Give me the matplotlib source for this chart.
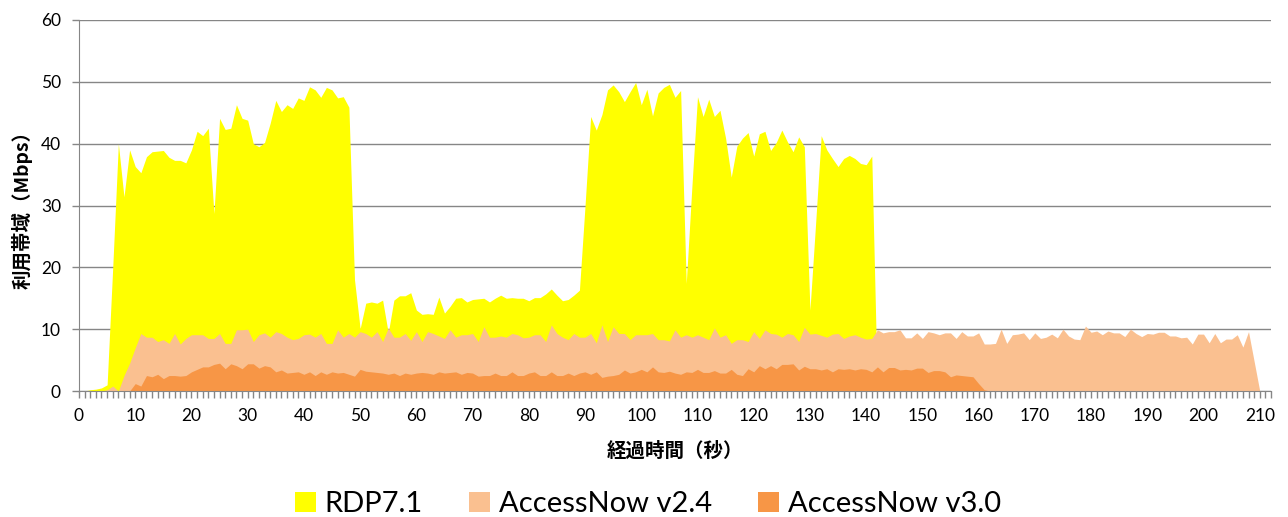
import numpy as np
import matplotlib
matplotlib.use("Agg")
import matplotlib.pyplot as plt
from matplotlib.patches import Patch

plt.rcParams['font.family'] = ['Lato', 'Noto Sans CJK JP', 'DejaVu Sans']

# 利用帯域 (Mbps), 1 sample per second
rdp71 = [0, 0, 0.2, 0.3, 0.5, 1.0, 20, 40, 31.4, 39,
         36.3, 35.3, 37.9, 38.7, 38.8, 38.9, 37.8, 37.3, 37.3, 36.9,
         39, 42, 41.3, 42.5, 28.7, 44.1, 42.3, 42.5, 46.3, 44.1,
         43.8, 40, 39.5, 40.2, 43.3, 47, 45.2, 46.3, 45.7, 47.4,
         47, 49.2, 48.7, 47.5, 49.1, 48.7, 47.4, 47.6, 45.9, 18,
         10.1, 14.2, 14.4, 14.2, 14.7, 9.4, 14.7, 15.4, 15.4, 15.9,
         13.1, 12.4, 12.5, 12.4, 15.2, 12.6, 13.7, 15, 15.1, 14.4,
         14.8, 14.9, 15, 14.4, 15, 15.5, 15, 15.1, 15, 15,
         14.6, 15.1, 15.1, 15.7, 16.5, 15.5, 14.6, 14.8, 15.5, 16.3,
         30, 44.4, 42.2, 44.7, 48.7, 49.5, 48.4, 46.8, 48.4, 49.9,
         46.3, 48.8, 44.5, 48.2, 49.1, 49.6, 47.5, 48.6, 17.4, 33,
         47.6, 44.4, 47.2, 44.4, 45.4, 40.9, 34.6, 39.6, 40.9, 41.8,
         38, 41.6, 42, 38.9, 40.2, 42.2, 40.3, 38.7, 41.1, 39.5,
         13.1, 27, 41.3, 39, 37.6, 36.3, 37.6, 38.1, 37.6, 36.8,
         36.6, 38, 0]

accessnow24 = [0, 0, 0, 0, 0, 0.2, 0.8, 0, 2.5, 4.5,
               7, 9.3, 8.7, 8.7, 8.0, 8.3, 7.7, 9.3, 7.6, 8.5,
               9.1, 9.1, 9.1, 8.5, 8.5, 9.3, 7.7, 7.7, 9.9, 9.9,
               10, 8, 9.1, 9.4, 8.7, 9.6, 9.3, 8.7, 8.3, 8.5,
               9.1, 9.2, 8.7, 9.3, 7.7, 7.7, 9.9, 8.7, 9.3, 8.7,
               9.6, 9.3, 8.7, 9.6, 8.0, 10.2, 8.7, 8.7, 9.3, 8.2,
               9.6, 8.0, 9.6, 9.3, 8.9, 8.5, 9.9, 8.7, 9.1, 9.1,
               9.3, 8.0, 10.4, 8.7, 8.7, 8.9, 8.7, 9.3, 9.1, 8.6,
               8.7, 9.1, 9.1, 8.0, 10.7, 9.3, 8.7, 8.3, 9.3, 8.7,
               8.7, 9.3, 7.8, 10.7, 8.0, 10.4, 9.3, 9.3, 8.3, 9.1,
               9.1, 9.1, 9.3, 8.3, 8.3, 8.1, 9.9, 8.7, 9.1, 8.7,
               9.1, 8.7, 8.3, 10.2, 8.7, 9.1, 7.7, 8.3, 8.3, 8.0,
               9.6, 8.5, 9.9, 9.3, 9.2, 8.7, 9.3, 9.1, 8.0, 10.3,
               9.2, 9.3, 9.0, 8.7, 9.2, 9.3, 8.5, 8.9, 9.1, 8.7,
               8.4, 8.5, 9.9, 9.4, 9.6, 9.6, 9.9, 8.6, 8.6, 9.4,
               8.5, 9.6, 9.4, 9.1, 9.4, 9.4, 8.5, 9.6, 8.9, 8.9,
               9.4, 7.6, 7.6, 7.7, 10.0, 7.7, 9.1, 9.2, 9.4, 8.3,
               9.4, 8.5, 8.7, 9.2, 8.6, 10.0, 8.9, 8.4, 8.3, 10.5,
               9.5, 9.7, 9.1, 9.7, 9.4, 9.4, 8.8, 10.0, 9.3, 8.8,
               9.3, 9.2, 9.5, 9.5, 8.9, 8.9, 8.6, 8.7, 7.6, 9.2,
               9.2, 7.8, 9.3, 7.8, 8.4, 8.4, 9.1, 7.1, 9.6, 4.8,
               0]

accessnow30 = [0, 0, 0, 0, 0, 0, 0, 0, 0, 0,
               1.2, 0.8, 2.5, 2.3, 2.7, 2.0, 2.5, 2.5, 2.4, 2.5,
               3.1, 3.5, 3.9, 3.9, 4.3, 4.5, 3.6, 4.4, 4.1, 3.6,
               4.4, 4.4, 3.7, 4.1, 3.9, 3.1, 3.4, 2.9, 3.0, 3.1,
               2.7, 3.1, 2.5, 3.1, 2.7, 3.1, 2.9, 3.0, 2.7, 2.4,
               3.5, 3.2, 3.1, 3.0, 2.9, 2.7, 2.9, 2.5, 2.9, 2.7,
               2.9, 3.0, 2.9, 2.7, 3.1, 2.9, 3.0, 3.1, 2.7, 3.0,
               2.9, 2.4, 2.5, 2.5, 2.9, 2.5, 2.5, 3.1, 2.5, 2.5,
               2.9, 3.1, 2.5, 2.5, 3.1, 2.5, 2.5, 2.9, 2.5, 2.9,
               3.1, 2.7, 3.1, 2.2, 2.4, 2.5, 2.7, 3.4, 2.9, 3.1,
               3.5, 3.1, 3.9, 3.1, 3.0, 3.2, 2.9, 2.7, 3.1, 3.0,
               3.5, 3.0, 3.0, 3.3, 2.9, 2.9, 3.5, 2.7, 2.5, 3.6,
               3.1, 4.1, 3.6, 4.1, 3.6, 4.3, 4.3, 4.4, 3.4, 4.0,
               3.6, 3.6, 3.4, 3.6, 3.1, 3.6, 3.5, 3.6, 3.4, 3.6,
               3.5, 3.1, 3.9, 3.1, 3.8, 3.8, 3.4, 3.5, 3.4, 3.7,
               3.7, 3.0, 3.3, 3.3, 3.1, 2.3, 2.6, 2.5, 2.4, 2.3,
               1.2, 0.2, 0]

series = [("RDP7.1", rdp71, "#FFFF00"),
          ("AccessNow v2.4", accessnow24, "#FAC090"),
          ("AccessNow v3.0", accessnow30, "#F79646")]

fig = plt.figure(figsize=(12.88, 5.17), dpi=100)
ax = fig.add_axes([79 / 1288, 1 - 391 / 517, 1192 / 1288, 371 / 517])

for name, vals, col in series:
    x = np.arange(len(vals))
    ax.fill_between(x, 0, vals, color=col, linewidth=0, label=name)

ax.set_xlim(0, 212)
ax.set_ylim(0, 60)
ax.set_yticks(range(0, 61, 10))
ax.set_xticks(range(0, 211, 10))
ax.set_xticks(range(0, 213), minor=True)

grey = "#868686"
ax.set_axisbelow(True)
ax.grid(axis="y", color=grey, linewidth=1)
for s in ["top", "right"]:
    ax.spines[s].set_visible(False)
for s in ["left", "bottom"]:
    ax.spines[s].set_color(grey)
ax.tick_params(axis="both", which="both", direction="out", color=grey,
               length=5, width=1, labelsize=12.5, labelcolor="black")
ax.tick_params(axis="x", which="major", pad=7)
ax.tick_params(axis="y", pad=8)

jp = ['Noto Sans CJK JP', 'DejaVu Sans']
fig.text(22 / 1288, 1 - 205 / 517, "利用帯域（Mbps）", rotation=90, ha="center",
         va="center", fontsize=14, fontweight="bold", family=jp)
fig.text(675 / 1288, 1 - 451 / 517, "経過時間（秒）", ha="center", va="center",
         fontsize=14, fontweight="bold", family=jp)

handles = [Patch(facecolor=c, edgecolor="none") for _, _, c in series]
fig.legend(handles, [n for n, _, _ in series], loc="center",
           bbox_to_anchor=(648 / 1288, 1 - 504 / 517), ncol=3, frameon=False,
           fontsize=21, handlelength=0.7, handleheight=0.7,
           handletextpad=0.3, columnspacing=1.6)

fig.savefig("out.png", dpi=100)
